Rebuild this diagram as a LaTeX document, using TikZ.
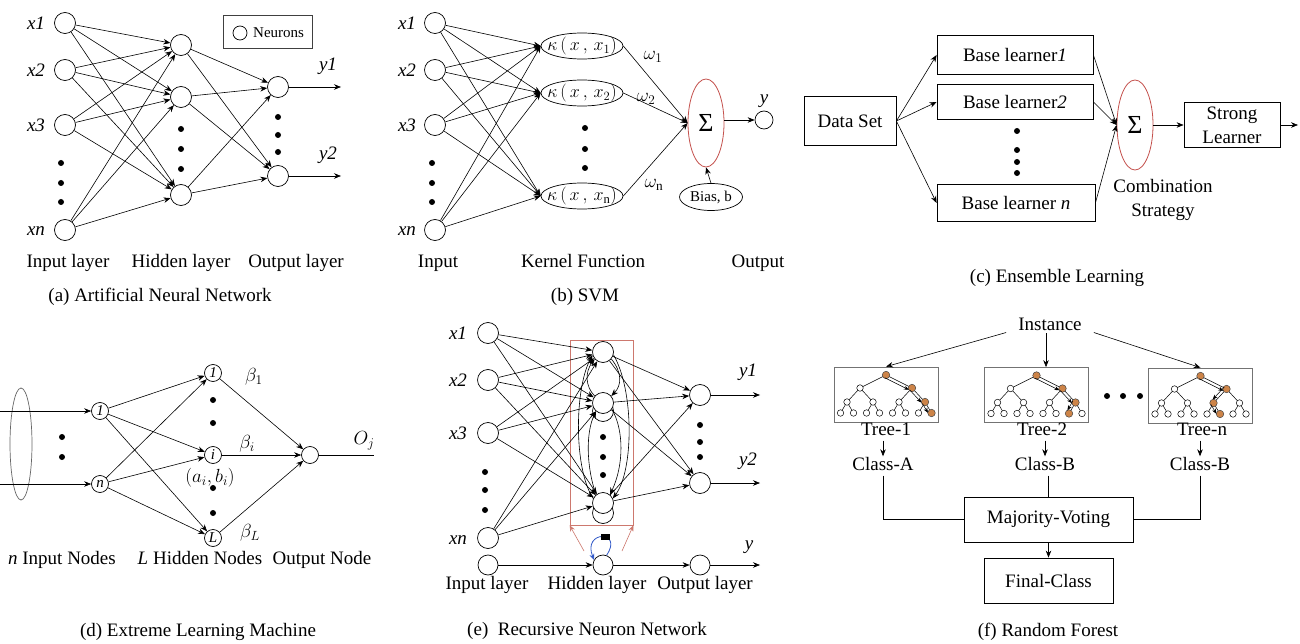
\RequirePackage{fix-cm}
\documentclass[tikz,border=0pt]{standalone}
\usepackage{fontspec}
\setmainfont{Liberation Serif}
\usetikzlibrary{arrows.meta,shapes.geometric,calc}
\definecolor{sumred}{RGB}{196,80,76}
\definecolor{boxred}{RGB}{205,120,110}
\definecolor{leaforange}{RGB}{205,132,72}
\definecolor{loopblue}{RGB}{50,90,200}
\newcommand\rftree[4]{%
  \begin{scope}[shift={(#1,#2)}]
    \coordinate (TR) at (0,-19.5);
    \coordinate (TA) at (-26,-6.5);
    \coordinate (TB) at (26,-6.5);
    \draw[line width=0.5pt] (TR) -- (TA) (TR) -- (TB)
      (TA) -- (-39,7.5) (TA) -- (-13,7.5) (TB) -- (13,7.5) (TB) -- (39,7.5);
    \foreach \xx in {-39,-13,13,39} {
      \draw[line width=0.5pt] (\xx,7.5) -- ++(-6.5,11) (\xx,7.5) -- ++(6.5,11);
      \node[tn] at (\xx,7.5) {};
    }
    \node[tn] at (TR) {};
    \node[tn] at (TA) {};
    \node[tn] at (TB) {};
    \foreach \xx in {-45.5,-32.5,-19.5,-6.5,6.5,19.5,32.5,45.5}
      \node[tn] at (\xx,18.5) {};
    \node[tno] (P0) at (TR) {};
    \node[tno] (P1) at (TB) {};
    \node[tno] (P2) at (#3,7.5) {};
    \node[tno] (P3) at (#4,18.5) {};
    \foreach \pa/\pb in {P0/P1,P1/P2,P2/P3}
      \draw[tarr] ($(\pa)!3pt!-90:(\pb)$) -- ($(\pb)!3pt!90:(\pa)$);
  \end{scope}}
\begin{document}
\begin{tikzpicture}[x=1pt,y=-1pt,
  every node/.style={font=\fontsize{19}{23}\selectfont},
  ln/.style={line width=0.6pt},
  arr/.style={line width=0.6pt,-{Stealth[length=7pt,width=5.5pt]}},
  neuron/.style={circle,draw,line width=0.7pt,fill=white,minimum size=21pt,inner sep=0pt},
  sneuron/.style={circle,draw,line width=0.7pt,fill=white,minimum size=17pt,inner sep=0pt,font=\fontsize{15}{16}\selectfont\itshape},
  dotn/.style={circle,fill,inner sep=0pt,minimum size=6pt},
  lbl/.style={inner sep=1pt,text height=13pt,text depth=4pt},
  plbl/.style={inner sep=1pt},
  ilbl/.style={inner sep=1pt,font=\fontsize{19}{23}\selectfont\itshape},
  rbox/.style={draw,line width=0.8pt,inner sep=0pt,align=center},
  kern/.style={ellipse,draw,line width=0.7pt,minimum width=82pt,minimum height=26pt,inner sep=0pt},
  sumell/.style={ellipse,draw=sumred,line width=0.8pt,minimum width=36pt,minimum height=88pt,inner sep=0pt},
  tn/.style={circle,draw,line width=0.5pt,fill=white,minimum size=6.5pt,inner sep=0pt},
  tno/.style={circle,draw=black!70,line width=0.5pt,fill=leaforange,minimum size=7.5pt,inner sep=0pt},
  tarr/.style={line width=0.5pt,shorten >=2pt,-{Stealth[length=5pt,width=4pt]}},
  treebox/.style={draw=black!55,line width=0.7pt,minimum width=104pt,minimum height=55pt,inner sep=0pt},
]
\useasboundingbox (0,0) rectangle (1300,644);
\fill[white] (0,0) rectangle (1300,644);

%% ================= (a) ANN =================
\node[neuron] (a1) at (65,23) {};
\node[neuron] (a2) at (65,70) {};
\node[neuron] (a3) at (65,125) {};
\node[neuron] (an) at (65,230) {};
\node[ilbl] (la1) at (36,23) {x1};
\node[ilbl] (la2) at (36,70) {x2};
\node[ilbl] (la3) at (36,125) {x3};
\node[ilbl] (lan) at (36,231) {xn};
\foreach \yy in {163,183,202} \node[dotn] at (61,\yy) {};
\node[neuron] (ah1) at (181,45) {};
\node[neuron] (ah2) at (181,97) {};
\node[neuron] (ah3) at (181,195) {};
\foreach \yy in {129,149,169} \node[dotn] at (181,\yy) {};
\node[neuron] (ao1) at (278,87) {};
\node[neuron] (ao2) at (278,176) {};
\foreach \yy in {117,135,152} \node[dotn] at (278,\yy) {};
\foreach \i in {a1,a2,a3,an} \foreach \j in {ah1,ah2,ah3} \draw[arr] (\i) -- (\j);
\foreach \i in {ah1,ah2,ah3} \foreach \j in {ao1,ao2} \draw[arr] (\i) -- (\j);
\coordinate (ay1) at (341,87);
\coordinate (ay2) at (341,176);
\draw[arr] (ao1) -- (ay1);
\draw[arr] (ao2) -- (ay2);
\node[ilbl] (lay1) at (328,66) {y1};
\node[ilbl] (lay2) at (328,155) {y2};
\node[draw=black!75,line width=1pt,minimum width=89pt,minimum height=33pt,inner sep=0pt] (leg) at (267.5,32.5) {};
\node[circle,draw,line width=0.7pt,minimum size=14pt,inner sep=0pt] (legc) at (240,33) {};
\node[plbl,anchor=west,font=\fontsize{15}{17}\selectfont] (legt) at (252,33) {Neurons};
\node[lbl] (ta1) at (68,263) {Input layer};
\node[lbl] (ta2) at (181,263) {Hidden layer};
\node[lbl] (ta3) at (296,263) {Output layer};
\node[lbl] (capa) at (160,297) {(a) Artificial Neural Network};

%% ================= (b) SVM =================
\node[neuron] (b1) at (435,23) {};
\node[neuron] (b2) at (435,70) {};
\node[neuron] (b3) at (435,125) {};
\node[neuron] (bn) at (435,230) {};
\node[ilbl] (lb1) at (407,23) {x1};
\node[ilbl] (lb2) at (407,70) {x2};
\node[ilbl] (lb3) at (407,125) {x3};
\node[ilbl] (lbn) at (407,231) {xn};
\foreach \yy in {163,183,202} \node[dotn] at (432,\yy) {};
\node[kern,label={[font=\fontsize{18}{20}\selectfont]center:{$\kappa\,(\,x\,,\,x_{1})$}}] (k1) at (582,46) {};
\node[kern,label={[font=\fontsize{18}{20}\selectfont]center:{$\kappa\,(\,x\,,\,x_{2})$}}] (k2) at (582,93) {};
\node[kern,label={[font=\fontsize{18}{20}\selectfont]center:{$\kappa\,(\,x\,,\,x_{\mathrm{n}})$}}] (kn) at (582,196) {};
\foreach \yy in {128,149,168} \node[dotn] at (585,\yy) {};
\foreach \i in {b1,b2,b3,bn} \foreach \j in {k1,k2,kn} \draw[arr] (\i) -- (\j.west);
\node[sumell,label={[font=\fontsize{26}{26}\selectfont]center:{Σ}}] (bs) at (706,123) {};
\foreach \j in {k1,k2,kn} \draw[arr] (\j.east) -- (bs.west);
\node[plbl] (w1) at (653,57) {$\omega_1$};
\node[plbl] (w2) at (646,99) {$\omega_2$};
\node[plbl] (wn) at (654,185) {$\omega_{\mathrm{n}}$};
\node[circle,draw,line width=0.7pt,minimum size=18pt,inner sep=0pt] (by) at (764,120) {};
\draw[arr] (bs.east |- by) -- (by);
\node[ilbl] (lby) at (764,101) {y};
\node[ellipse,draw,line width=0.7pt,minimum width=63pt,minimum height=27pt,inner sep=0pt,
  label={[font=\fontsize{15}{17}\selectfont]center:{Bias, b}}] (bias) at (711,197) {};
\draw[arr] (bias.north) -- (bs.south);
\node[lbl] (tb1) at (438,263) {Input};
\node[lbl] (tb2) at (583,263) {Kernel Function};
\node[lbl] (tb3) at (758,263) {Output};
\node[lbl] (capb) at (585,297) {(b) SVM};

%% ================= (c) Ensemble =================
\node[rbox,minimum width=92pt,minimum height=49pt] (ds) at (850,121) {Data Set};
\node[rbox,minimum width=156pt,minimum height=39pt] (bl1) at (1015,55) {Base learner\textit{1}};
\node[rbox,minimum width=156pt,minimum height=35pt] (bl2) at (1015,102) {Base learner\textit{2}};
\node[rbox,minimum width=158pt,minimum height=37pt] (bln) at (1016,203) {Base learner \textit{n}};
\foreach \yy in {131,150,162,173} \node[dotn] at (1017,\yy) {};
\node[sumell,minimum height=90pt,label={[font=\fontsize{26}{26}\selectfont]center:{Σ}}] (cs) at (1135,125) {};
\node[rbox,minimum width=96pt,minimum height=45pt,font=\fontsize{19}{24}\selectfont] (sl) at (1232,125) {Strong\\Learner};
\coordinate (cout) at (1298,125);
\foreach \j in {bl1,bl2,bln} \draw[arr] (ds.east) -- (\j.west);
\foreach \j in {bl1,bl2,bln} \draw[arr] (\j.east) -- (cs.west);
\draw[arr] (cs) -- (sl);
\draw[arr] (sl) -- (cout);
\node[plbl,align=center,font=\fontsize{19}{24}\selectfont] (comb) at (1163,200) {Combination\\Strategy};
\node[lbl] (capc) at (1057,278) {(c) Ensemble Learning};

%% ================= (d) ELM =================
\node[ellipse,draw=black!60,line width=0.7pt,minimum width=22pt,minimum height=112pt,inner sep=0pt] (dell) at (21,444) {};
\coordinate (din1) at (0,411);
\coordinate (dinn) at (0,484);
\node[sneuron] (d1) at (100,411) {1};
\node[sneuron] (dn) at (100,484) {n};
\draw[arr] (din1) -- (d1);
\draw[arr] (dinn) -- (dn);
\foreach \yy in {437,457} \node[dotn] at (62,\yy) {};
\node[sneuron] (dh1) at (213,373) {1};
\node[sneuron] (dhi) at (213,455) {i};
\node[sneuron] (dhL) at (213,538) {L};
\foreach \yy in {400,423,488,513} \node[dotn] at (213,\yy) {};
\node[sneuron] (dout) at (310,455) {};
\foreach \i in {d1,dn} \foreach \j in {dh1,dhi,dhL} \draw[arr] (\i) -- (\j);
\foreach \i in {dh1,dhi,dhL} \draw[arr] (\i) -- (dout);
\coordinate (dend) at (374,455);
\draw[ln] (dout) -- (dend);
\node[plbl] (beta1) at (254,377) {$\beta_1$};
\node[plbl] (betai) at (247,444) {$\beta_i$};
\node[plbl] (betaL) at (250,533) {$\beta_L$};
\node[plbl] (abi) at (210,478) {$(a_i,b_i)$};
\node[plbl] (oj) at (364,441) {$O_j$};
\node[lbl] (td1) at (62,560) {\textit{n} Input Nodes};
\node[lbl] (td2) at (200,560) {\textit{L} Hidden Nodes};
\node[lbl] (td3) at (322,560) {Output Node};
\node[lbl] (capd) at (198,632) {(d) Extreme Learning Machine};

%% ================= (e) RNN =================
\node[draw=boxred,line width=0.7pt,minimum width=63pt,minimum height=185pt,inner sep=0pt] (rect) at (601.5,432.5) {};
\node[neuron] (e1) at (488,333) {};
\node[neuron] (e2) at (488,380) {};
\node[neuron] (e3) at (488,433) {};
\node[neuron] (en) at (488,538) {};
\node[neuron,minimum size=20pt] (eb) at (488,565) {};
\node[ilbl] (le1) at (458,333) {x1};
\node[ilbl] (le2) at (458,380) {x2};
\node[ilbl] (le3) at (458,433) {x3};
\node[ilbl] (len) at (458,540) {xn};
\foreach \yy in {472,490,510} \node[dotn] at (485,\yy) {};
\node[neuron] (eh2b) at (603,411) {};
\node[neuron] (eh3b) at (603,513) {};
\node[neuron] (eh1) at (603,352) {};
\node[neuron] (eh2) at (603,403) {};
\node[neuron] (eh3) at (603,503) {};
\node[neuron,minimum size=20pt] (ehb) at (603,565) {};
\foreach \yy in {437,457,475} \node[dotn] at (603,\yy) {};
\node[neuron] (eo1) at (700,395) {};
\node[neuron] (eo2) at (700,483) {};
\node[neuron,minimum size=20pt] (eob) at (700,565) {};
\foreach \yy in {425,442,457} \node[dotn] at (700,\yy) {};
\foreach \i in {e1,e2,e3,en} \foreach \j in {eh1,eh2,eh3} \draw[arr] (\i) -- (\j);
\foreach \i in {eh1,eh2,eh3} \foreach \j in {eo1,eo2} \draw[arr] (\i) -- (\j);
% recurrent connections
\draw[arr] (eh1.-40) .. controls (622,372) and (622,385) .. (eh2.40);
\draw[arr] (eh2.140) .. controls (585,386) and (585,372) .. (eh1.-140);
\draw[arr] (eh1.-15) .. controls (634,390) and (634,470) .. (eh3.25);
\draw[arr] (eh3.155) .. controls (574,470) and (574,390) .. (eh1.-165);
\draw[arr] (eh2.-35) .. controls (624,430) and (624,465) .. (eh3.50);
\draw[arr] (eh3.130) .. controls (586,466) and (586,432) .. (eh2.-130);
\coordinate (ey1) at (760,395);
\coordinate (ey2) at (760,483);
\coordinate (eyb) at (760,565);
\draw[arr] (eo1) -- (ey1);
\draw[arr] (eo2) -- (ey2);
\draw[arr] (eb) -- (ehb);
\draw[arr] (ehb) -- (eob);
\draw[arr] (eob) -- (eyb);
\node[ilbl] (ley1) at (748,372) {y1};
\node[ilbl] (ley2) at (748,461) {y2};
\node[ilbl] (leyb) at (749,547) {y};
% self loop and feedback
\draw[loopblue,line width=0.8pt,-{Stealth[length=6pt,width=5pt]}] (ehb.70) .. controls (624,530) and (582,530) .. (ehb.150);
\node[fill=black,minimum width=9pt,minimum height=6pt,inner sep=0pt] (ctx) at (605,537) {};
\coordinate (rf1) at (584,551);
\coordinate (rf2) at (622,551);
\draw[boxred,line width=0.6pt,-{Stealth[length=6pt,width=5pt]}] (rf1) -- (rect.south west);
\draw[boxred,line width=0.6pt,-{Stealth[length=6pt,width=5pt]}] (rf2) -- (rect.south east);
\node[lbl] (te1) at (487,585) {Input layer};
\node[lbl] (te2) at (597,585) {Hidden layer};
\node[lbl] (te3) at (705,585) {Output layer};
\node[lbl] (cape) at (587,631) {(e)\ \ Recursive Neuron Network};

%% ================= (f) Random forest =================
\node[inner xsep=12pt,inner ysep=2pt] (inst) at (1050,324) {Instance};
\node[treebox] (t1) at (886,394.5) {};
\node[treebox] (t2) at (1036.5,395) {};
\node[treebox] (t3) at (1200.5,395.5) {};
\rftree{886}{394.5}{39}{45.5}
\rftree{1036.5}{395}{39}{32.5}
\rftree{1200.5}{395.5}{13}{19.5}
\draw[arr] (inst.south west) -- (t1.north);
\coordinate (instm) at (1046,333);
\draw[arr] (instm) -- (instm |- t2.north);
\draw[arr] (inst.south east) -- (t3.north);
\foreach \xx in {1107,1123,1140} \node[dotn] at (\xx,396) {};
\node[lbl] (tl1) at (886,431) {Tree-1};
\node[lbl] (tl2) at (1042,431) {Tree-2};
\node[lbl] (tl3) at (1202,431) {Tree-n};
\node[lbl] (ca) at (883,466) {Class-A};
\node[lbl] (cb) at (1045,466) {Class-B};
\node[lbl] (cc) at (1200,466) {Class-B};
\draw[arr] (tl1.south -| ca) -- (ca);
\draw[arr] (tl2.south -| cb) -- (cb);
\draw[arr] (tl3.south -| cc) -- (cc);
\node[rbox,minimum width=169pt,minimum height=45pt] (mv) at (1048.5,519.5) {Majority-Voting};
\node[rbox,minimum width=129pt,minimum height=45pt] (fc) at (1048.5,580.5) {Final-Class};
\draw[ln] (ca.south) |- (mv.west);
\draw[ln] (cc.south) |- (mv.east);
\draw[ln] (mv.north |- cb.south) -- (mv.north);
\draw[arr] (mv) -- (fc);
\node[lbl] (capf) at (1048,632) {(f) Random Forest};
\end{tikzpicture}
\end{document}
